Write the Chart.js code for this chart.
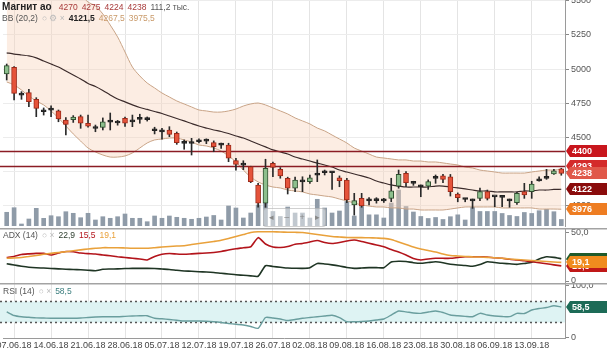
<!DOCTYPE html>
<html lang="ru">
<head>
<meta charset="UTF-8">
<title>Магнит ао</title>
<script src="https://cdn.jsdelivr.net/npm/chart.js"></script>
<style>
    body { margin: 0; background: #fff; font-family: "Liberation Sans", Arial, sans-serif; }
    #wrap { position: relative; width: 607px; height: 350px; overflow: hidden; }
    #wrap canvas { position: absolute; left: 0; }
    .lg { position: absolute; display: flex; gap: 4px; align-items: baseline; font-size: 8.5px; line-height: 11px;
          white-space: nowrap; pointer-events: none; color: #555; }
    .ic { color: #bbb; }
    .nav { position: absolute; left: 263px; top: 208px; width: 61px; height: 17px; border: 1px solid rgba(150,150,150,0.45);
           border-radius: 3px; background: rgba(255,255,255,0.45); color: #888; font-size: 9px; line-height: 17px;
           display: flex; justify-content: space-around; }
</style>
</head>
<body>
<div id="wrap">
    <canvas id="mainChart" width="607" height="228" style="top:0"></canvas>
    <canvas id="adxChart" width="607" height="55" style="top:228px"></canvas>
    <canvas id="rsiChart" width="607" height="67" style="top:283px"></canvas>

    <div class="lg" style="left:2px;top:1px">
        <b style="font-size:10px;color:#222;margin-right:3px">Магнит ао</b>
        <span style="color:#a83a3a">4270</span><span style="color:#a83a3a">4275</span>
        <span style="color:#a83a3a">4224</span><span style="color:#a83a3a">4238</span>
        <span>111,2 тыс.</span>
    </div>
    <div class="lg" style="left:2px;top:13px">
        <span>BB (20,2)</span><span class="ic">○ ⚙ ×</span>
        <b style="color:#222">4121,5</b><span style="color:#c99a6a">4267,5</span><span style="color:#c99a6a">3975,5</span>
    </div>

    <div class="nav"><span>◂</span><span>–</span><span>+</span><span>▸</span></div>

    <div class="lg" style="left:3px;top:230px">
        <span>ADX (14)</span><span class="ic">○ ×</span>
        <span style="color:#2d3d2d">22,9</span><span style="color:#b3141b">15,5</span><span style="color:#e9a13b">19,1</span>
    </div>
    <div class="lg" style="left:3px;top:286px">
        <span>RSI (14)</span><span class="ic">○ ×</span><span style="color:#3f8080">58,5</span>
    </div>
</div>

<script>
const dates = [
    '06.06.18','07.06.18','08.06.18','11.06.18','12.06.18','13.06.18','14.06.18','15.06.18','18.06.18','19.06.18',
    '20.06.18','21.06.18','22.06.18','25.06.18','26.06.18','27.06.18','28.06.18','29.06.18','02.07.18','03.07.18',
    '04.07.18','05.07.18','06.07.18','09.07.18','10.07.18','11.07.18','12.07.18','13.07.18','16.07.18','17.07.18',
    '18.07.18','19.07.18','20.07.18','23.07.18','24.07.18','25.07.18','26.07.18','27.07.18','30.07.18','31.07.18',
    '01.08.18','02.08.18','03.08.18','06.08.18','07.08.18','08.08.18','09.08.18','10.08.18','13.08.18','14.08.18',
    '15.08.18','16.08.18','17.08.18','20.08.18','21.08.18','22.08.18','23.08.18','24.08.18','27.08.18','28.08.18',
    '29.08.18','30.08.18','31.08.18','03.09.18','04.09.18','05.09.18','06.09.18','07.09.18','10.09.18','11.09.18',
    '12.09.18','13.09.18','14.09.18','17.09.18','18.09.18','19.09.18'
];
const weekTicks = ['07.06.18','14.06.18','21.06.18','28.06.18','05.07.18','12.07.18','19.07.18','26.07.18',
    '02.08.18','09.08.18','16.08.18','23.08.18','30.08.18','06.09.18','13.09.18'];

const opens = [4964,5013,4812,4828,4779,4690,4702,4694,4628,4630, 4652,4604,4568,4574,4612,4608,4640,4616,4634,4633,
    4551,4543,4555,4531,4459,4456,4471,4475,4462,4446, 4445,4331,4300,4287,4153,4019,4311,4267,4202,4129,
    4178,4177,4227,4244,4244,4206,4189,4007,4055,4039, 4041,4039,4055,4145,4238,4166,4141,4145,4203,4219,
    4213,4087,4049,4039,4055,4104,4068,4064,4039,4023, 4104,4104,4185,4203,4233,4270];
const highs = [5037,5018,4835,4852,4791,4716,4732,4701,4645,4660, 4664,4664,4591,4643,4679,4625,4650,4664,4670,4650,
    4575,4567,4579,4540,4482,4494,4490,4490,4475,4460, 4458,4348,4330,4290,4165,4341,4320,4280,4210,4210,
    4213,4226,4336,4262,4250,4219,4202,4092,4092,4060, 4060,4055,4202,4262,4250,4180,4153,4190,4226,4230,
    4230,4095,4055,4050,4130,4116,4070,4068,4050,4100, 4165,4180,4213,4267,4267,4275];
const lows = [4920,4774,4779,4725,4652,4664,4652,4615,4518,4610, 4567,4575,4542,4555,4555,4590,4580,4579,4604,4620,
    4526,4487,4506,4450,4414,4372,4460,4455,4396,4420, 4323,4262,4265,4170,3990,3990,4213,4202,4087,4104,
    4104,4165,4177,4226,4121,4140,4023,3933,3990,4007, 4020,4025,4031,4129,4140,4150,4067,4121,4165,4170,
    4072,4030,4030,3982,4038,4043,3994,3995,3990,4010, 4055,4055,4180,4194,4230,4224];
const closes = [5025,4823,4810,4762,4713,4688,4700,4635,4596,4650, 4604,4582,4566,4615,4614,4606,4604,4614,4632,4631,
    4549,4541,4523,4462,4457,4460,4469,4473,4433,4444, 4348,4304,4298,4177,4019,4275,4282,4219,4129,4189,
    4176,4206,4225,4242,4242,4184,4043,4038,3999,4037, 4039,4037,4110,4231,4170,4164,4139,4177,4201,4194,
    4104,4060,4047,4037,4104,4055,4066,4062,4037,4092, 4080,4160,4183,4201,4257,4238];
// volume, thousands of shares
const volumes = [233,311,34,119,300,130,175,158,243,216, 141,216,102,158,131,158,204,131,131,73,
    170,131,170,148,131,114,131,153,179,102, 340,306,136,221,357,493,247,162,323,221,
    221,136,454,306,221,255,417,170,332,190, 190,136,391,612,332,238,162,128,145,111,
    158,190,102,323,247,247,247,213,179,162, 230,213,260,284,243,111.2];

const bbUpper = [5900,5850,5800,5760,5720,5690,5660,5630,5600,5570, 5540,5490,5461,5403,5322,5235,5125,5015,4950,4898,
    4862,4825,4796,4767,4745,4723,4701,4694,4686,4686, 4694,4708,4730,4745,4752,4738,4716,4694,4672,4643,
    4621,4599,4569,4548,4518,4489,4460,4423,4401,4379, 4357,4350,4343,4336,4336,4328,4328,4321,4321,4314,
    4306,4299,4284,4277,4262,4255,4248,4240,4240,4240, 4240,4248,4255,4262,4262,4267.5];
const bbMiddle = [5119,5110,5103,5096,5082,5059,5037,5015,4986,4957, 4928,4895,4873,4844,4811,4781,4760,4738,4719,4705,
    4690,4675,4657,4639,4621,4602,4584,4569,4555,4544, 4529,4511,4496,4474,4452,4431,4409,4394,4379,4357,
    4343,4328,4313,4299,4284,4262,4248,4233,4219,4204, 4182,4167,4153,4145,4138,4138,4138,4138,4145,4145,
    4138,4131,4124,4116,4109,4109,4102,4102,4102,4102, 4109,4109,4116,4116,4120,4121.5];
const bbLower = [4906,4884,4847,4803,4767,4738,4694,4643,4584,4526, 4474,4423,4394,4372,4357,4357,4365,4387,4423,4460,
    4482,4489,4496,4496,4482,4467,4445,4438,4423,4401, 4365,4321,4262,4211,4175,4153,4138,4131,4116,4109,
    4102,4087,4080,4072,4065,4050,4036,4021,4007,3999, 3992,3992,3985,3985,3977,3977,3970,3970,3970,3970,
    3977,3985,3992,3992,3992,3992,3992,3985,3985,3985, 3985,3985,3977,3977,3977,3975.5];
const levels = [4400, 4293];
const priceTicks = [4000, 4250, 4500, 4750, 5000, 5250, 5500];

const diPlus = [17.7,16.4,15.2,14.2,13.6,13.3,12.9,12.5,12.1,11.8, 11.5,11.1,10.5,12.0,12.3,12.5,12.8,13.0,13.0,13.0,
    12.8,12.3,11.8,11.0,10.3,10.0,9.5,9.2,8.7,7.9, 7.2,6.4,5.9,5.3,4.9,15.7,14.9,14.1,13.3,13.1,
    13.0,13.7,18.0,17.5,16.6,15.4,13.9,13.0,13.3,13.7, 13.7,13.7,19.5,20.3,20.0,18.8,18.2,19.0,19.7,18.7,
    17.2,16.4,15.9,15.1,16.9,19.8,19.0,18.2,17.7,17.1, 18.0,19.2,22.6,24.9,24.3,22.9];
const diMinus = [24.1,25.2,27.2,27.9,28.4,28.4,26.7,28.7,30.3,30.0, 28.7,28.1,27.7,26.7,25.9,24.9,24.1,23.4,22.6,21.6,
    25.2,27.4,28.2,27.7,27.4,27.9,28.4,28.7,29.3,30.3, 31.8,33.1,34.1,35.2,44.5,38.0,34.9,34.4,35.4,37.7,
    38.5,40.0,41.6,39.5,38.5,39.5,41.1,42.1,40.6,38.7, 37.0,35.2,32.3,29.8,26.7,23.1,21.6,22.6,23.3,23.3,
    23.3,24.1,24.9,24.9,24.9,24.6,23.8,23.3,22.3,21.6, 20.8,19.7,18.7,17.7,16.6,15.5];
const adx = [23.3,23.6,24.1,25.2,26.2,27.4,28.4,29.3,30.1,31.0, 32.0,32.9,33.6,34.2,34.2,34.2,33.9,33.6,33.6,33.6,
    34.2,34.9,35.4,35.9,36.2,37.5,38.5,39.5,40.6,41.8, 43.6,45.7,47.7,49.8,50.6,50.6,50.5,50.3,50.1,50.0,
    49.8,48.8,47.7,46.7,45.7,45.2,44.7,44.5,44.5,44.4, 44.1,43.8,42.6,40.0,37.5,34.9,32.9,31.3,29.8,27.7,
    26.2,25.7,25.2,24.8,24.6,24.3,23.8,23.3,22.6,22.1, 21.6,21.0,20.5,20.0,19.5,19.1];
const adxTicks = [0, 50];

const rsi = [49.1,42.0,39.5,38.5,37.5,37.1,36.6,36.6,36.6,36.6, 37.1,38.1,39.1,39.7,39.7,39.7,40.4,41.0,41.4,41.6,
    36.6,35.6,34.2,32.7,31.3,31.3,31.3,30.8,29.8,28.4, 26.5,25.0,23.6,20.7,17.2,38.1,37.1,35.2,32.3,34.2,
    36.6,38.1,39.5,41.0,42.4,38.1,30.0,30.0,30.4,31.3, 33.3,35.2,42.9,50.7,49.1,46.8,46.2,48.7,50.7,47.8,
    42.9,41.4,40.4,39.7,46.2,42.9,41.0,40.0,39.7,46.2, 45.8,52.6,55.5,57.4,60.9,58.5];
const rsiBand = [30, 70];
const rsiTicks = [0, 100];

Chart.defaults.font.family = '"Liberation Sans", Arial, sans-serif';
Chart.defaults.animation = false;
Chart.defaults.plugins.legend.display = false;
Chart.defaults.plugins.tooltip.enabled = false;

const UP = '#8dbf8d', UP_EDGE = '#2f4f2f';
const DOWN = '#e5533a', DOWN_EDGE = '#9c2a1a';
const FLAT = '#222';

const bodyFill = opens.map((o, i) => closes[i] - o > 4 ? UP : o - closes[i] > 4 ? DOWN : FLAT);
const bodyEdge = opens.map((o, i) => closes[i] - o > 4 ? UP_EDGE : o - closes[i] > 4 ? DOWN_EDGE : FLAT);

const commaFmt = v => v === 0 ? '0' : v.toFixed(1).replace('.', ',');

function xAxis(withLabels) {
    return {
        type: 'category',
        offset: true,
        grid: { offset: false, color: '#e4e4e4', drawTicks: false },
        border: { display: withLabels, color: '#9a9a9a' },
        ticks: { display: withLabels, autoSkip: false, maxRotation: 0, padding: 2, color: '#444', font: { size: 9 } },
        afterBuildTicks: s => { s.ticks = s.ticks.filter(t => weekTicks.includes(dates[t.value])); },
        afterFit: s => { s.height = withLabels ? 12 : 0; s.paddingLeft = 0; s.paddingRight = 0; }
    };
}

// right-hand value axis; the panel runs edge to edge, so no room is kept for half labels
function rightAxis(min, max, tickList, fmt, gridColor) {
    return {
        position: 'right', min, max,
        afterBuildTicks: s => { s.ticks = tickList.map(v => ({ value: v })); },
        afterFit: s => { s.width = 42; s.paddingTop = 0; s.paddingBottom = 0; },
        ticks: { color: '#555', font: { size: 9 }, padding: 2, callback: fmt },
        grid: { color: gridColor, tickColor: '#888', tickLength: 4 },
        border: { color: '#9a9a9a' }
    };
}

// value tag sitting on the right axis, pointing at its level
function tag(chart, value, color, text) {
    const ctx = chart.ctx;
    const x = chart.chartArea.right + 1;
    const y = Math.round(chart.scales.y.getPixelForValue(value));
    ctx.save();
    ctx.fillStyle = color;
    ctx.beginPath();
    ctx.moveTo(x, y);
    ctx.lineTo(x + 4, y - 6);
    ctx.lineTo(chart.width, y - 6);
    ctx.lineTo(chart.width, y + 6);
    ctx.lineTo(x + 4, y + 6);
    ctx.closePath();
    ctx.fill();
    ctx.fillStyle = '#fff';
    ctx.font = 'bold 9px "Liberation Sans", Arial, sans-serif';
    ctx.textBaseline = 'middle';
    ctx.fillText(text, x + 6, y + 0.5);
    ctx.restore();
}

function separator(chart) {
    chart.ctx.save();
    chart.ctx.fillStyle = '#a3a3a3';
    chart.ctx.fillRect(0, 0, chart.width, 1.5);
    chart.ctx.restore();
}

const last = closes.length - 1;

// price panel: volume, Bollinger bands, support/resistance lines and candles
new Chart(document.getElementById('mainChart'), {
    type: 'bar',
    data: {
        labels: dates,
        datasets: [
            { data: volumes, yAxisID: 'yVol', backgroundColor: '#8f9ba8', barThickness: 4, grouped: false, order: 5 },
            { type: 'line', data: bbUpper, borderColor: '#c9a487', borderWidth: 1, pointRadius: 0, tension: 0.3,
              fill: '+2', backgroundColor: 'rgba(248, 210, 186, 0.4)', order: 4 },
            { type: 'line', data: bbMiddle, borderColor: '#3b2b2b', borderWidth: 1.2, pointRadius: 0, tension: 0.3, fill: false, order: 2 },
            { type: 'line', data: bbLower, borderColor: '#c9a487', borderWidth: 1, pointRadius: 0, tension: 0.3, fill: false, order: 3 },
            { data: lows.map((l, i) => [l, highs[i]]), backgroundColor: '#2a2a2a', barThickness: 1, grouped: false, order: 1 },
            { data: opens.map((o, i) => [o, closes[i]]), backgroundColor: bodyFill, borderColor: bodyEdge,
              borderWidth: 1, borderSkipped: false, barThickness: 5, minBarLength: 2, grouped: false, order: 0 }
        ]
    },
    options: {
        responsive: false,
        layout: { padding: { left: 3, right: 0, top: 0, bottom: 2 } },
        scales: {
            x: xAxis(false),
            y: rightAxis(3853, 5505, priceTicks, v => String(v), '#ececec'),
            yVol: { display: false, min: 0, max: 3842 }
        }
    },
    plugins: [{
        id: 'levels',
        beforeDatasetDraw(chart, args) {
            if (args.index !== 4) return;
            const { ctx, chartArea } = chart;
            ctx.save();
            ctx.strokeStyle = '#8b1c24';
            ctx.lineWidth = 1.4;
            levels.forEach(v => {
                const y = Math.round(chart.scales.y.getPixelForValue(v)) + 0.5;
                ctx.beginPath();
                ctx.moveTo(chartArea.left - 3, y);
                ctx.lineTo(chartArea.right, y);
                ctx.stroke();
            });
            ctx.restore();
        },
        afterDraw(chart) {
            tag(chart, levels[0], '#c8161d', String(levels[0]));
            tag(chart, levels[1], '#d42a2a', String(levels[1]));
            tag(chart, closes[last], '#e0584a', String(closes[last]));
            tag(chart, bbMiddle[last], '#8a0c0c', String(Math.round(bbMiddle[last])));
            tag(chart, bbLower[last], '#ee7d22', String(Math.round(bbLower[last])));
        }
    }]
});

// ADX (14) panel
new Chart(document.getElementById('adxChart'), {
    type: 'line',
    data: {
        labels: dates,
        datasets: [
            { data: adx, borderColor: '#e9a13b', borderWidth: 1.6, pointRadius: 0, tension: 0.2 },
            { data: diMinus, borderColor: '#b3141b', borderWidth: 1.6, pointRadius: 0, tension: 0.2 },
            { data: diPlus, borderColor: '#1f3524', borderWidth: 1.6, pointRadius: 0, tension: 0.2 }
        ]
    },
    options: {
        responsive: false,
        layout: { padding: { left: 3, right: 0, top: 1, bottom: 0 } },
        scales: {
            x: xAxis(false),
            y: rightAxis(-2.05, 53.4, adxTicks, commaFmt, 'rgba(0,0,0,0)')
        }
    },
    plugins: [{
        id: 'adxTags',
        afterDraw(chart) {
            separator(chart);
            tag(chart, diMinus[last], '#c01818', commaFmt(diMinus[last]));
            tag(chart, diPlus[last], '#1f5a2a', commaFmt(diPlus[last]));
            tag(chart, adx[last], '#f08c1e', commaFmt(adx[last]));
        }
    }]
});

// RSI (14) panel with the 30..70 zone
new Chart(document.getElementById('rsiChart'), {
    type: 'line',
    data: {
        labels: dates,
        datasets: [
            { data: rsi, borderColor: '#6a9e9e', borderWidth: 1.4, pointRadius: 0, tension: 0.2 }
        ]
    },
    options: {
        responsive: false,
        layout: { padding: { left: 3, right: 0, top: 1, bottom: 0 } },
        scales: {
            x: xAxis(true),
            y: rightAxis(-1.5, 102.9, rsiTicks, commaFmt, 'rgba(0,0,0,0)')
        }
    },
    plugins: [{
        id: 'rsiZone',
        beforeDatasetsDraw(chart) {
            const { ctx, chartArea } = chart;
            const y = chart.scales.y;
            const lo = Math.round(y.getPixelForValue(rsiBand[0])) + 0.5;
            const hi = Math.round(y.getPixelForValue(rsiBand[1])) + 0.5;
            ctx.save();
            ctx.fillStyle = '#def3f3';
            ctx.fillRect(chartArea.left - 3, hi, chartArea.right - chartArea.left + 3, lo - hi);
            ctx.strokeStyle = '#555';
            ctx.lineWidth = 1.5;
            ctx.setLineDash([2, 3]);
            [lo, hi].forEach(py => {
                ctx.beginPath();
                ctx.moveTo(chartArea.left - 3, py);
                ctx.lineTo(chartArea.right, py);
                ctx.stroke();
            });
            ctx.restore();
        },
        afterDraw(chart) {
            separator(chart);
            tag(chart, rsi[last], '#1d6b57', commaFmt(rsi[last]));
        }
    }]
});
</script>
</body>
</html>
